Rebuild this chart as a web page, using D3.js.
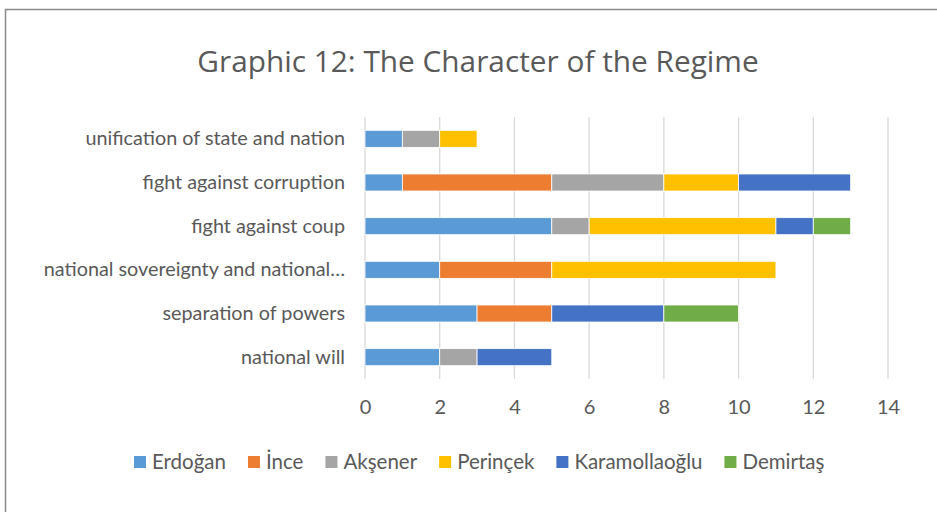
<!DOCTYPE html>
<html>
<head>
<meta charset="utf-8">
<script src="https://cdn.jsdelivr.net/npm/d3@7"></script>
<style>
  body { margin: 0; background: #fff; }
  svg text { font-family: Lato, "Open Sans", sans-serif; fill: #595959; }
</style>
</head>
<body>
<div id="chart"></div>
<script>
// kategorier, uppifrån och ned
var categories = ["unification of state and nation", "fight against corruption", "fight against coup",
    "national sovereignty and national\u2026", "separation of powers", "national will"];
var seriesNames = ["Erdoğan", "İnce", "Akşener", "Perinçek", "Karamollaoğlu", "Demirtaş"];
var seriesColors = ["#5B9BD5", "#ED7D31", "#A5A5A5", "#FFC000", "#4472C4", "#70AD47"];

// värden per serie, i samma ordning som categories
var erdogan       = [1, 1, 5, 2, 3, 2];
var ince          = [0, 4, 0, 3, 2, 0];
var aksener       = [1, 3, 1, 0, 0, 1];
var perincek      = [1, 2, 5, 6, 0, 0];
var karamollaoglu = [0, 3, 1, 0, 3, 2];
var demirtas      = [0, 0, 1, 0, 2, 0];
var xTicks = [0, 2, 4, 6, 8, 10, 12, 14];

var width = 937, height = 512;
var padding = { top: 117, left: 365, right: 49, bottom: 133 };
var coordWidth = width - padding.left - padding.right;
var coordHeight = height - padding.top - padding.bottom;

var allSeries = [erdogan, ince, aksener, perincek, karamollaoglu, demirtas];
var rows = categories.map(function(c, i) {
    var r = { cat: c };
    seriesNames.forEach(function(s, j) { r[s] = allSeries[j][i]; });
    return r;
});

var stacked = d3.stack().keys(seriesNames)(rows);

var svg = d3.select("#chart").append("svg")
    .attr("width", width)
    .attr("height", height);

// ram runt diagrammet
svg.append("rect")
    .attr("x", 5.5).attr("y", 9.5)
    .attr("width", width).attr("height", height)
    .attr("fill", "none")
    .attr("stroke", "#898989")
    .attr("stroke-width", 1.5);

svg.append("text")
    .attr("x", 478).attr("y", 72)
    .attr("text-anchor", "middle")
    .style("font-family", "'Open Sans', sans-serif")
    .style("font-size", "29.8px")
    .text("Graphic 12: The Character of the Regime");

var xScale = d3.scaleLinear().domain([0, 14]).range([0, coordWidth]);
var yScale = d3.scaleBand().domain(categories).range([0, coordHeight]).paddingInner(0.61).paddingOuter(0.305);

var chart = svg.append("g")
    .attr("transform", "translate(" + padding.left + "," + padding.top + ")");

// stödlinjer
chart.append("g")
    .selectAll("line")
    .data(xTicks)
    .enter().append("line")
    .attr("x1", function(d) { return xScale(d); })
    .attr("x2", function(d) { return xScale(d); })
    .attr("y1", 0).attr("y2", coordHeight)
    .attr("stroke", "#d9d9d9")
    .attr("stroke-width", 1.3);

chart.selectAll(".serie")
    .data(stacked)
    .enter().append("g")
    .attr("class", "serie")
    .attr("fill", function(d, i) { return seriesColors[i]; })
    .selectAll("rect")
    .data(function(d) { return d; })
    .enter().append("rect")
    .attr("x", function(d) { return xScale(d[0]); })
    .attr("y", function(d) { return yScale(d.data.cat); })
    .attr("width", function(d) { return xScale(d[1]) - xScale(d[0]); })
    .attr("height", yScale.bandwidth())
    .attr("stroke", "#fff")
    .attr("stroke-width", 0.8);

// x-axel
var xAxis = chart.append("g")
    .attr("transform", "translate(0," + coordHeight + ")")
    .call(d3.axisBottom(xScale).tickValues(xTicks).tickSize(0).tickPadding(21));
xAxis.select(".domain").remove();
xAxis.selectAll("text").style("font-size", "20px").attr("fill", "#595959");

// y-axel
var yAxis = chart.append("g")
    .call(d3.axisLeft(yScale).tickSize(0).tickPadding(20));
yAxis.select(".domain").remove();
yAxis.selectAll("text").style("font-size", "19.8px").attr("fill", "#595959");

// legend
var legend = svg.append("g").attr("transform", "translate(0,462)");
var lx = 134;
seriesNames.forEach(function(s, i) {
    legend.append("rect")
        .attr("x", lx).attr("y", -6)
        .attr("width", 12).attr("height", 12)
        .attr("fill", seriesColors[i]);
    var t = legend.append("text")
        .attr("x", lx + 18).attr("y", 0)
        .attr("dy", "0.35em")
        .style("font-size", "20.5px")
        .text(s);
    lx += 18 + t.node().getComputedTextLength() + 22;
});
</script>
</body>
</html>
